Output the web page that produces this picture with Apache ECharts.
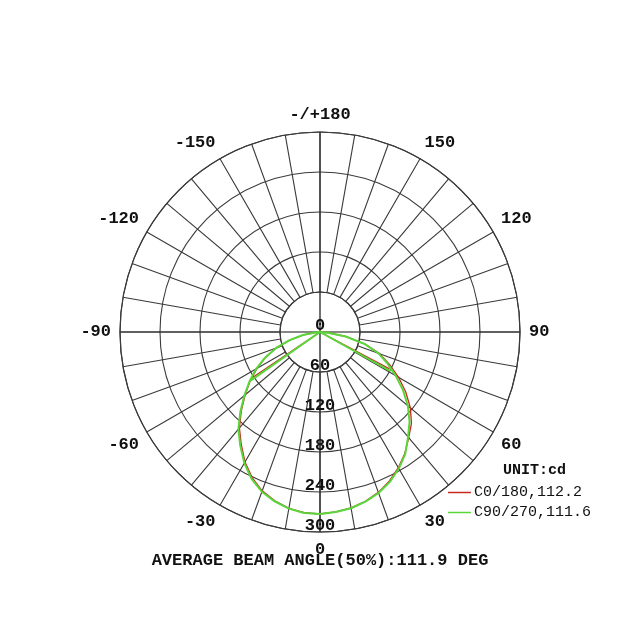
<!DOCTYPE html>
<html>
<head>
<meta charset="utf-8">
<script src="https://cdn.jsdelivr.net/npm/echarts@6/dist/echarts.min.js"></script>
<style>html,body{margin:0;padding:0;background:#fff}#c{width:640px;height:640px}</style>
</head>
<body>
<div id="c"></div>
<script>
// gamma angles (deg), 0 = straight down, positive = C0 / C90 side
const gammaAngles = [-90,-85,-80,-75,-70,-65,-60,-55,-50,-45,-40,-35,-30,-25,-20,-15,-10,-5,0,5,10,15,20,25,30,35,40,45,50,55,60,65,70,75,80,85,90];
// luminous intensity (cd)
const c0180 = [0,6,25,47,69.5,90,109,128,146.5,167,188,206,225,241,253.5,262,268.5,272,273,271,268,263,256,246.5,235,222,207,194,177,157,136,115,95,70,40,13,0];
const c90270 = [0,5,26,47,70,91,110.5,129,148,169,190.5,208.5,227,243,255,263,269,272.5,273,271,268.5,263.5,257,248,236.5,223,205.5,190,172,152,131,111.5,93,69,39,12,0];
// chord end points drawn from the centre (gamma, cd)
const c0180ChordGamma = [-56, 62];
const c0180ChordI = [124, 118];
const c90270ChordGamma = [-55, 61];
const c90270ChordI = [127, 121];
// axis ticks
const radialTicks = [0, 60, 120, 180, 240, 300];
const angleLabelStep = 30;
const seriesNames = ['C0/180,112.2', 'C90/270,111.6'];
const unitText = 'UNIT:cd';
const footerText = 'AVERAGE BEAM ANGLE(50%):111.9 DEG';

const FONT = 'Liberation Mono';
const GRID = '#3a3a3a';
function toAxis(g) { return g < 0 ? g + 360 : g; }
function build(vals, cg, ci) {
  const pts = [[ci[0], toAxis(cg[0])], [0, toAxis(-90)]];
  gammaAngles.forEach((g, i) => pts.push([vals[i], toAxis(g)]));
  pts.push([ci[1], toAxis(cg[1])]);
  return pts;
}

const chart = echarts.init(document.getElementById('c'));
chart.setOption({
  animation: false,
  backgroundColor: '#fff',
  title: [
    { text: unitText, left: 498, top: 458, textStyle: { fontFamily: FONT, fontSize: 15, fontWeight: 'bold', color: '#111' } },
    { text: footerText, left: 'center', top: 547, textStyle: { fontFamily: FONT, fontSize: 17, fontWeight: 'bold', color: '#111' } }
  ],
  legend: {
    orient: 'vertical', left: 443, top: 480, itemWidth: 23, itemHeight: 1.5, itemGap: 5, icon: 'rect',
    textStyle: { fontFamily: FONT, fontSize: 15, color: '#111', padding: [0, 0, 0, -2] },
    data: seriesNames
  },
  polar: [
    { center: [320, 332], radius: [0, 200] },
    { center: [320, 332], radius: [40, 200] }
  ],
  angleAxis: [
    { polarIndex: 0, type: 'value', min: 0, max: 360, interval: 90, startAngle: 270, clockwise: false,
      axisLine: { show: false }, axisTick: { show: false }, axisLabel: { show: false },
      splitLine: { show: true, lineStyle: { color: '#111', width: 1.2 } } },
    { polarIndex: 1, type: 'value', min: 0, max: 360, interval: 10, startAngle: 270, clockwise: false,
      axisLine: { show: true, lineStyle: { color: GRID, width: 1.2 } }, axisTick: { show: false },
      axisLabel: { show: true, margin: 9, fontFamily: FONT, fontSize: 17, fontWeight: 'bold', color: '#111',
        formatter: function (v) {
          if (v % angleLabelStep !== 0 || v === 360) return '';
          if (v === 180) return '-/+180';
          return String(v > 180 ? v - 360 : v);
        } },
      splitLine: { show: true, lineStyle: { color: GRID, width: 1.1 } } }
  ],
  radiusAxis: [
    { polarIndex: 0, type: 'value', min: radialTicks[0], max: radialTicks[radialTicks.length - 1], interval: radialTicks[1] - radialTicks[0],
      axisLine: { show: false }, axisTick: { show: false },
      axisLabel: { show: true, margin: 0, align: 'center', verticalAlign: 'bottom', lineHeight: 12, fontFamily: FONT, fontSize: 17, fontWeight: 'bold', color: '#111' },
      splitLine: { show: true, lineStyle: { color: GRID, width: 1.1 } } },
    { polarIndex: 1, type: 'value', min: 0, max: 300, show: false }
  ],
  series: [
    { name: seriesNames[0], type: 'line', coordinateSystem: 'polar', polarIndex: 0, symbol: 'none', color: '#c8281e',
      lineStyle: { color: '#c8281e', width: 1.3 }, data: build(c0180, c0180ChordGamma, c0180ChordI) },
    { name: seriesNames[1], type: 'line', coordinateSystem: 'polar', polarIndex: 0, symbol: 'none', color: '#58d63a',
      lineStyle: { color: '#58d63a', width: 2 }, data: build(c90270, c90270ChordGamma, c90270ChordI) }
  ]
});
</script>
</body>
</html>
